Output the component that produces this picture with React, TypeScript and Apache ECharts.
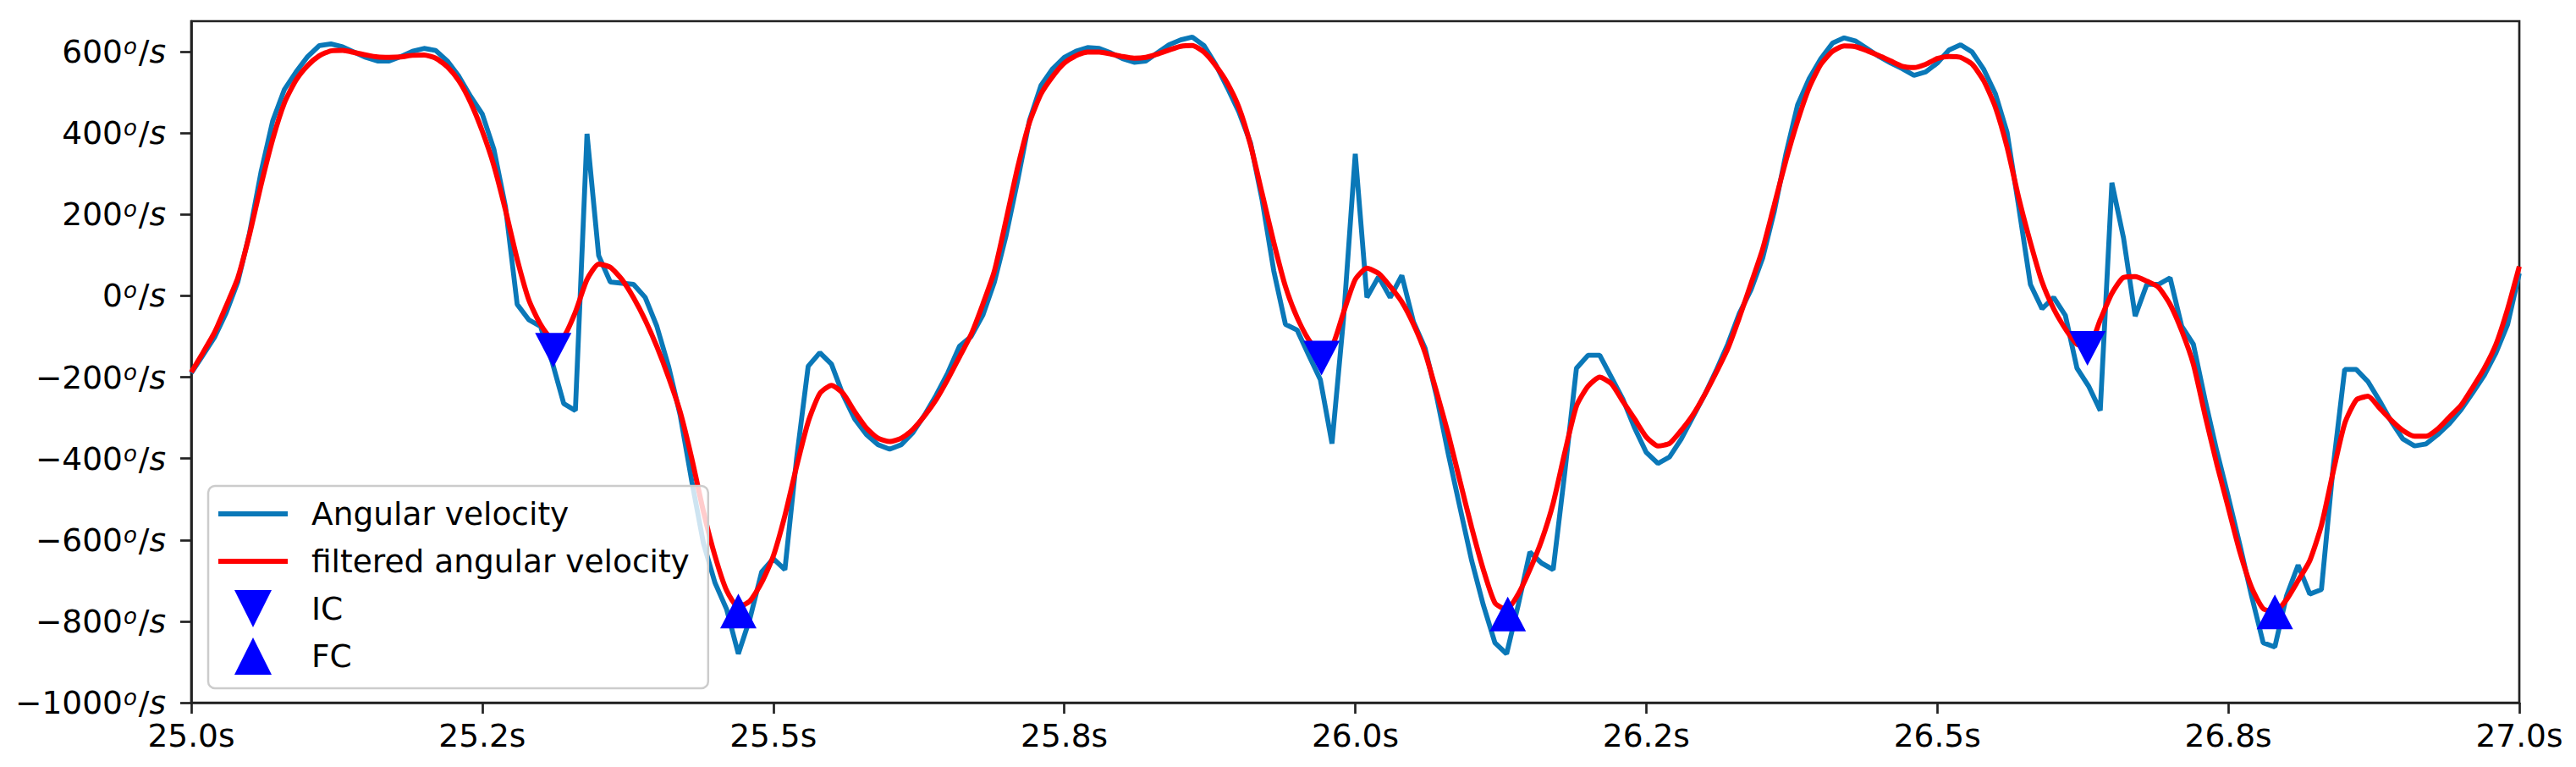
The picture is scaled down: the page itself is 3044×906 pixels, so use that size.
import React, { useEffect, useRef } from "react";
import * as echarts from "echarts";

// sampling of the recorded signal (100 Hz)
const T_START = 25.0;
const T_STEP = 0.01;

// raw angular velocity (°/s), one value per sample from 25.00 s to 27.00 s
const angularVelocity = [
  -190, -146, -102, -42, 34, 153, 305, 430, 507, 550,
  588, 615, 619, 612, 599, 586, 577, 577, 588, 601,
  608, 603, 577, 539, 490, 447, 360, 218, -21, -59,
  -75, -162, -265, -282, 398, 99, 34, 31, 28, -4,
  -75, -173, -293, -456, -608, -706, -771, -880, -793, -679,
  -646, -673, -401, -173, -140, -168, -244, -303, -341, -366,
  -377, -366, -336, -293, -244, -189, -124, -100, -48, 34,
  148, 284, 430, 517, 558, 586, 601, 610, 608, 597,
  583, 574, 577, 597, 617, 629, 636, 615, 569, 512,
  452, 376, 235, 61, -70, -84, -146, -206, -363, -53,
  349, -4, 47, -4, 50, -64, -129, -249, -390, -521,
  -651, -760, -853, -880, -760, -630, -657, -673, -434, -178,
  -146, -146, -200, -255, -325, -385, -412, -396, -352, -298,
  -244, -184, -119, -43, 15, 93, 208, 349, 469, 534,
  583, 621, 634, 626, 607, 588, 572, 558, 542, 550,
  572, 604, 617, 599, 556, 496, 401, 218, 28, -32,
  -4, -48, -178, -222, -282, 278, 142, -50, 28, 28,
  44, -75, -119, -255, -380, -494, -613, -738, -853, -863,
  -738, -662, -733, -722, -423, -181, -181, -211, -258, -309,
  -352, -369, -364, -341, -314, -280, -238, -195, -140, -70,
  55,
];

// filtered angular velocity (°/s), same samples
const filteredVelocity = [
  -188, -140, -90, -25, 44, 150, 273, 385, 474, 530,
  566, 590, 602, 603, 598, 592, 587, 586, 587, 591,
  592, 584, 563, 528, 475, 405, 320, 210, 90, -10,
  -70, -105, -100, -40, 40, 78, 70, 40, -5, -60,
  -125, -200, -285, -400, -530, -640, -725, -765, -750, -705,
  -640, -540, -420, -310, -240, -220, -240, -285, -325, -350,
  -358, -350, -328, -295, -255, -205, -150, -95, -21, 61,
  186, 316, 425, 496, 539, 572, 590, 599, 599, 594,
  588, 584, 586, 594, 604, 613, 615, 599, 566, 523,
  463, 371, 251, 131, 23, -53, -108, -140, -125, -40,
  40, 68, 55, 23, -15, -70, -140, -238, -341, -456,
  -570, -673, -755, -771, -733, -673, -602, -510, -385, -271,
  -222, -200, -216, -260, -303, -347, -369, -363, -331, -293,
  -244, -189, -130, -53, 30, 115, 224, 333, 430, 512,
  569, 601, 614, 612, 602, 590, 577, 564, 561, 569,
  583, 588, 586, 569, 528, 463, 365, 240, 131, 34,
  -32, -81, -119, -124, -59, 6, 45, 47, 36, 21,
  -21, -86, -168, -293, -412, -521, -630, -717, -769, -776,
  -747, -700, -651, -564, -434, -314, -256, -247, -276, -306,
  -331, -345, -345, -327, -298, -269, -225, -178, -119, -32,
  72,
];

// gait events
const icTimes = [25.311, 25.971, 26.629];
const icValues = [-134, -153, -129];
const fcTimes = [25.47, 26.131, 26.79];
const fcValues = [-775, -782, -777];

// axes
const xTickValues = [25, 25.25, 25.5, 25.75, 26, 26.25, 26.5, 26.75, 27];
const xTickLabels = ["25.0s", "25.2s", "25.5s", "25.8s", "26.0s", "26.2s", "26.5s", "26.8s", "27.0s"];
const yTickValues = [-1000, -800, -600, -400, -200, 0, 200, 400, 600];

const seriesNames = ["Angular velocity", "filtered angular velocity", "IC", "FC"];

const FONT = "DejaVu Sans";
const AXIS_COLOR = "#222222";
const BLUE = "#0a78b8";
const RED = "#ff0000";
const MARKER = "#0000ff";

export default function App() {
  const ref = useRef<HTMLDivElement>(null);

  useEffect(() => {
    document.body.style.margin = "0";
    const chart = echarts.init(ref.current!, null, { renderer: "svg" });

    const times = angularVelocity.map((_, i) => +(T_START + i * T_STEP).toFixed(2));
    const rawData = times.map((t, i) => [t, angularVelocity[i]]);
    const filtData = times.map((t, i) => [t, filteredVelocity[i]]);
    const icData = icTimes.map((t, i) => [t, icValues[i]]);
    const fcData = fcTimes.map((t, i) => [t, fcValues[i]]);

    const yFormatter = (v: number) => {
      const n = Math.round(v);
      const sign = n < 0 ? "\u2212" : "";
      return `{n|${sign}${Math.abs(n)}}{o|o}{sl|/}{s|s}`;
    };

    const option: any = {
      animation: false,
      backgroundColor: "#ffffff",
      textStyle: { fontFamily: FONT },
      grid: {
        left: 226,
        right: 67,
        top: 25,
        bottom: 76,
        show: true,
        borderColor: AXIS_COLOR,
        borderWidth: 2.7,
        backgroundColor: "transparent",
      },
      xAxis: {
        type: "value",
        min: 25,
        max: 27,
        axisLine: { show: true, onZero: false, lineStyle: { color: AXIS_COLOR, width: 2.7 } },
        axisTick: {
          show: true,
          length: 13,
          customValues: xTickValues,
          lineStyle: { color: AXIS_COLOR, width: 2.7 },
        },
        axisLabel: {
          customValues: xTickValues,
          fontSize: 37.5,
          fontFamily: FONT,
          color: "#000",
          margin: 20,
          formatter: (v: number) => {
            const i = xTickValues.findIndex((x) => Math.abs(x - v) < 1e-6);
            return i >= 0 ? xTickLabels[i] : "";
          },
        },
        splitLine: { show: false },
      },
      yAxis: {
        type: "value",
        min: -1000,
        max: 675,
        axisLine: { show: true, onZero: false, lineStyle: { color: AXIS_COLOR, width: 2.7 } },
        axisTick: {
          show: true,
          length: 13,
          customValues: yTickValues,
          lineStyle: { color: AXIS_COLOR, width: 2.7 },
        },
        axisLabel: {
          customValues: yTickValues,
          margin: 30,
          color: "#000",
          formatter: yFormatter,
          rich: {
            n: { fontSize: 37.5, fontFamily: FONT, color: "#000", lineHeight: 38 },
            o: {
              fontSize: 26,
              fontFamily: FONT,
              fontStyle: "italic",
              color: "#000",
              lineHeight: 20,
              verticalAlign: "top",
              padding: [0, 2, 0, 1],
            },
            sl: { fontSize: 37.5, fontFamily: FONT, color: "#000", lineHeight: 38 },
            s: { fontSize: 37.5, fontFamily: FONT, fontStyle: "italic", color: "#000", lineHeight: 38 },
          },
        },
        splitLine: { show: false },
      },
      legend: {
        orient: "vertical",
        left: 246,
        top: 574,
        padding: [11, 22, 16, 12],
        itemWidth: 82,
        itemHeight: 44,
        itemGap: 12,
        selectedMode: false,
        backgroundColor: "rgba(255,255,255,0.8)",
        borderColor: "#cccccc",
        borderWidth: 2.5,
        borderRadius: 8,
        textStyle: {
          fontSize: 37.5,
          fontFamily: FONT,
          color: "#000",
          lineHeight: 44,
          padding: [0, 0, 0, 23],
        },
        data: [
          { name: seriesNames[0], icon: "path://M0,0L82,0L82,6L0,6Z" },
          { name: seriesNames[1], icon: "path://M0,0L82,0L82,6L0,6Z" },
          { name: seriesNames[2], icon: "path://M0,0L2,0L1,2Z" },
          { name: seriesNames[3], icon: "path://M1,0L2,2L0,2Z" },
        ],
      },
      series: [
        {
          name: seriesNames[0],
          type: "line",
          data: rawData,
          showSymbol: false,
          symbol: "none",
          lineStyle: { color: BLUE, width: 5.8 },
          itemStyle: { color: BLUE },
          z: 2,
        },
        {
          name: seriesNames[1],
          type: "line",
          data: filtData,
          showSymbol: false,
          symbol: "none",
          smooth: 0.2,
          lineStyle: { color: RED, width: 6 },
          itemStyle: { color: RED },
          z: 3,
        },
        {
          name: seriesNames[2],
          type: "scatter",
          data: icData,
          symbol: "triangle",
          symbolRotate: 180,
          symbolSize: [43, 41],
          itemStyle: { color: MARKER, opacity: 1 },
          z: 4,
        },
        {
          name: seriesNames[3],
          type: "scatter",
          data: fcData,
          symbol: "triangle",
          symbolSize: [43, 41],
          itemStyle: { color: MARKER, opacity: 1 },
          z: 4,
        },
      ],
    };

    chart.setOption(option);
    return () => chart.dispose();
  }, []);

  return <div ref={ref} style={{ width: 3044, height: 906 }} />;
}
